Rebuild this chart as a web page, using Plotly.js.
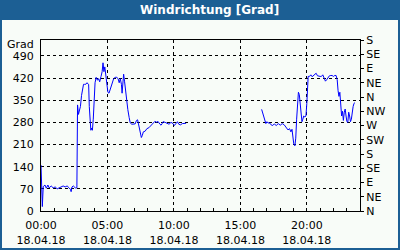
<!DOCTYPE html>
<html>
<head>
<meta charset="utf-8">
<script src="https://cdn.plot.ly/plotly-3.0.1.min.js"></script>
<style>
html,body{margin:0;padding:0;background:#f8fcf8;}
#chart{width:400px;height:250px;}
</style>
</head>
<body>
<div id="chart"></div>
<script>
// ---- data ----
const day = "2018-04-18";
const times1 = ["00:00","00:03","00:06","00:10","00:18","00:24","00:31","00:37","00:46","00:55",
"01:04","01:13","01:22","01:31","01:40","01:49","01:58","02:07","02:13","02:16","02:20","02:26","02:35","02:42",
"02:45","02:49","02:53","02:58","03:03","03:08","03:12","03:17","03:22","03:27","03:35","03:38","03:42","03:45",
"03:49","03:52","03:56","04:00","04:04","04:09","04:15","04:20","04:25","04:31","04:36","04:40","04:44","04:48",
"04:52","04:57","05:02","05:07","05:12","05:17","05:22","05:28","05:35","05:42","05:48","05:53","05:58","06:03",
"06:06","06:10","06:13","06:17","06:21","06:26","06:32","06:38","06:43","06:50","06:58","07:05","07:11","07:16",
"07:20","07:25","07:29","07:33","07:37","07:42","07:50","07:58","08:07","08:16","08:25","08:34","08:43","08:48",
"08:57","09:02","09:07","09:11","09:20","09:29","09:38","09:47","09:56","10:02","10:09","10:16","10:22","10:29",
"10:38","10:47","10:55"];
const dir1 = [145,55,14,77,82,72,82,73,79,73,
76,70,73,76,79,76,79,73,68,61,76,79,73,73,
335,305,315,330,365,395,400,400,400,405,400,330,270,255,
262,255,290,340,405,422,413,418,408,425,440,468,440,455,
430,395,375,372,383,395,408,418,422,422,418,405,418,400,
372,405,432,410,380,355,320,295,278,274,274,275,286,288,
275,255,245,232,238,250,252,260,263,270,278,283,280,283,
274,271,276,282,280,277,274,280,276,270,276,282,274,272,
276,277,277];
const times2 = ["16:36","16:41","16:46","16:51","16:55","17:00","17:05","17:12","17:19","17:26","17:33","17:42",
"17:51","18:00","18:09","18:18","18:27","18:35","18:42","18:48","18:53","18:57","19:01","19:06","19:10","19:14",
"19:18","19:22","19:26","19:30","19:34","19:38","19:42","19:46","19:51","19:56","20:00","20:03","20:06","20:12",
"20:18","20:24","20:30","20:36","20:42","20:48","20:54","21:00","21:06","21:12","21:18","21:24","21:30","21:36",
"21:42","21:48","21:54","22:00","22:06","22:12","22:17","22:21","22:25","22:29","22:33","22:37","22:41","22:45",
"22:49","22:53","22:57","23:01","23:05","23:09","23:13","23:17","23:21","23:25","23:29","23:33","23:37"];
const dir2 = [321,310,300,285,276,282,278,278,272,270,275,270,
276,271,276,272,264,256,260,250,258,240,212,206,230,290,
345,375,368,340,300,282,290,300,297,300,340,390,425,425,
430,424,428,430,435,427,425,425,425,430,420,410,415,422,
427,428,428,425,428,428,415,380,362,375,330,300,315,286,
312,322,300,282,280,312,300,282,290,318,330,340,342];
const leftTicks = [0,70,140,210,280,350,420,490];
const rightTickVals = [0,45,90,135,180,225,270,315,360,405,450,495,540];
const rightTickText = ["N","NE","E","SE","S","SW","W","NW","N","NE","E","SE","S"];
const xTickVals = ["00:00","05:00","10:00","15:00","20:00"];
const xTickText = ["00:00<br>18.04.18","05:00<br>18.04.18","10:00<br>18.04.18","15:00<br>18.04.18","20:00<br>18.04.18"];

// ---- layout helpers ----
const W=400,H=250,L=41,R=40,T=40,B=39;
const pw=W-L-R, ph=H-T-B;
const px=x=>(x-L)/pw, py=y=>(H-B-y)/ph;
const blue="#1c5f94";
const font={family:"DejaVu Sans, Verdana, sans-serif",size:11,color:"#000"};
const ts=t=>day+" "+t;

const traces=[
 {x:times1.map(ts),y:dir1,type:"scatter",mode:"lines",line:{color:"#0000ff",width:1},hoverinfo:"skip",showlegend:false},
 {x:times2.map(ts),y:dir2,type:"scatter",mode:"lines",line:{color:"#0000ff",width:1},hoverinfo:"skip",showlegend:false},
 {x:[null],y:[null],type:"scatter",mode:"lines",yaxis:"y2",hoverinfo:"skip",showlegend:false}
];

const layout={
 width:W,height:H,
 margin:{l:L,r:R,t:T,b:B,pad:0},
 paper_bgcolor:"#f8fcf8",plot_bgcolor:"#f8fcf8",
 font:font,
 showlegend:false,
 xaxis:{type:"date",range:[ts("00:00"),"2018-04-19 00:00"],
   tickmode:"array",tickvals:xTickVals.map(ts),ticktext:xTickText,
   ticks:"inside",ticklen:3,tickcolor:"#000",ticklabelstandoff:4,
   minor:{dtick:3600000,ticks:"inside",ticklen:3,tickcolor:"#000",showgrid:false},
   showgrid:true,gridcolor:"#000",griddash:"3px,3px",gridwidth:1,
   showline:true,linecolor:"#000",linewidth:1,mirror:true,zeroline:false,
   tickfont:font,fixedrange:true},
 yaxis:{range:[0,540],tickmode:"array",tickvals:leftTicks,ticks:"",
   showgrid:true,gridcolor:"#000",griddash:"3px,3px",gridwidth:1,
   showline:true,linecolor:"#000",linewidth:1,mirror:true,zeroline:false,
   tickfont:font,ticklabelstandoff:4,fixedrange:true},
 yaxis2:{range:[0,540],overlaying:"y",side:"right",anchor:"x",tickmode:"array",
   tickvals:rightTickVals,ticktext:rightTickText,ticks:"outside",ticklen:3,tickcolor:"#000",
   showgrid:false,showline:true,linecolor:"#000",zeroline:false,tickfont:font,fixedrange:true},
 shapes:[
  {type:"rect",xref:"paper",yref:"paper",x0:px(0),x1:px(W),y0:py(20),y1:py(0),fillcolor:blue,line:{width:0},layer:"above"},
  {type:"rect",xref:"paper",yref:"paper",x0:px(1),x1:px(W-1),y0:py(H-1),y1:py(1),fillcolor:"rgba(0,0,0,0)",line:{color:blue,width:2},layer:"above"}
 ],
 annotations:[
  {text:"<b>Windrichtung [Grad]</b>",xref:"paper",yref:"paper",x:px(209),y:py(10),xanchor:"center",yanchor:"middle",showarrow:false,font:{family:font.family,size:12,color:"#fff"}},
  {text:"Grad",xref:"paper",yref:"paper",x:px(36),y:py(44),xanchor:"right",yanchor:"middle",showarrow:false,font:font}
 ]
};
Plotly.newPlot("chart",traces,layout,{staticPlot:true,displayModeBar:false});
</script>
</body>
</html>
